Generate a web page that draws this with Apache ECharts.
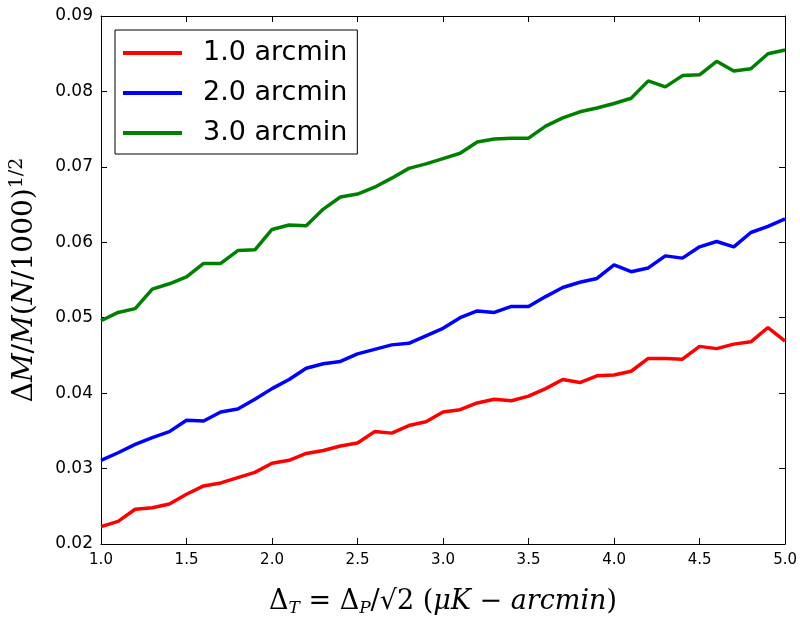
<!DOCTYPE html>
<html>
<head>
<meta charset="utf-8">
<script src="https://cdn.jsdelivr.net/npm/echarts@6/dist/echarts.min.js"></script>
<style>html,body{margin:0;padding:0;background:#fff;}#c{width:800px;height:622px;}</style>
</head>
<body>
<div id="c"></div>
<script>
const xValues = [1.0,1.1,1.2,1.3,1.4,1.5,1.6,1.7,1.8,1.9,2.0,2.1,2.2,2.3,2.4,2.5,2.6,2.7,2.8,2.9,3.0,3.1,3.2,3.3,3.4,3.5,3.6,3.7,3.8,3.9,4.0,4.1,4.2,4.3,4.4,4.5,4.6,4.7,4.8,4.9,5.0];
const seriesNames = ['1.0 arcmin','2.0 arcmin','3.0 arcmin'];
const red1 = [0.0223,0.0230,0.0246,0.0248,0.0253,0.0266,0.0277,0.0281,0.0288,0.0295,0.0307,0.0311,0.0320,0.0324,0.0330,0.0334,0.0349,0.0347,0.0357,0.0362,0.0375,0.0378,0.0387,0.0392,0.0390,0.0396,0.0406,0.0418,0.0414,0.0423,0.0424,0.0429,0.0446,0.0446,0.0445,0.0462,0.0459,0.0465,0.0468,0.0487,0.0469];
const blue2 = [0.0311,0.0321,0.0332,0.0341,0.0349,0.0364,0.0363,0.0375,0.0379,0.0392,0.0406,0.0418,0.0433,0.0439,0.0442,0.0452,0.0458,0.0464,0.0466,0.0476,0.0486,0.0500,0.0509,0.0507,0.0515,0.0515,0.0528,0.0540,0.0547,0.0552,0.0570,0.0561,0.0566,0.0582,0.0579,0.0594,0.0601,0.0594,0.0613,0.0621,0.0631];
const green3 = [0.0496,0.0507,0.0512,0.0538,0.0545,0.0554,0.0572,0.0572,0.0589,0.0590,0.0617,0.0623,0.0622,0.0644,0.0660,0.0664,0.0673,0.0685,0.0698,0.0704,0.0711,0.0718,0.0733,0.0737,0.0738,0.0738,0.0754,0.0765,0.0773,0.0778,0.0784,0.0791,0.0814,0.0806,0.0821,0.0822,0.0840,0.0827,0.0830,0.0850,0.0855];
const colors = ['#ff0000','#0000ff','#008000'];
const yTicks = {min:0.02, max:0.09, interval:0.01};
const xTicks = {min:1.0, max:5.0, interval:0.5};

const pair = arr => arr.map((v,i)=>[xValues[i], v]);
const serif = 'DejaVu Serif';
const axisCommon = {
  axisLine:{show:true, onZero:false, lineStyle:{color:'#000', width:1}},
  axisTick:{show:true, inside:true, length:6, lineStyle:{color:'#000', width:1}},
  splitLine:{show:false}
};
const XF = 27, YF = 28;
const chart = echarts.init(document.getElementById('c'), null, {renderer:'canvas'});
chart.setOption({
  animation:false,
  backgroundColor:'#fff',
  grid:{left:101, right:14, top:16, bottom:75, containLabel:false},
  legend:{
    left:115, top:30, orient:'vertical',
    data:seriesNames,
    icon:'rect', itemWidth:59, itemHeight:4, itemGap:10,
    borderColor:'#000', borderWidth:1, padding:[8,10,6,8],
    backgroundColor:'#fff',
    textStyle:{fontFamily:'DejaVu Sans', fontSize:27, color:'#000', lineHeight:30, padding:[0,0,0,16]}
  },
  xAxis:[
    Object.assign({type:'value', position:'bottom', min:xTicks.min, max:xTicks.max, interval:xTicks.interval,
      axisLabel:{margin:9, fontFamily:'DejaVu Sans', fontSize:15, color:'#000', formatter:v=>v.toFixed(1)},
      name:'{r|Δ}{sub|T}{r| = Δ}{sub|P}{r|/√2 (}{i|μK}{r| − }{i|arcmin}{r|)}',
      nameLocation:'middle', nameGap:43,
      nameTextStyle:{fontFamily:serif, fontSize:XF, color:'#000',
        rich:{r:{fontFamily:serif, fontSize:XF, color:'#000'},
              i:{fontFamily:serif, fontStyle:'italic', fontSize:XF, color:'#000'},
              sub:{fontFamily:serif, fontStyle:'italic', fontSize:17, color:'#000', padding:[13,0,0,0]}}}
    }, axisCommon),
    Object.assign({type:'value', position:'top', min:xTicks.min, max:xTicks.max, interval:xTicks.interval,
      axisLabel:{show:false}}, axisCommon)
  ],
  yAxis:[
    Object.assign({type:'value', position:'left', min:yTicks.min, max:yTicks.max, interval:yTicks.interval,
      axisLabel:{margin:8, fontFamily:'DejaVu Sans', fontSize:17, color:'#000', formatter:v=>v.toFixed(2)},
      name:'{r|Δ}{i|M}{r|/}{i|M}{r|(}{i|N}{r|/1000)}{sup|1/2}',
      nameLocation:'middle', nameGap:59, nameRotate:90,
      nameTextStyle:{fontFamily:serif, fontSize:YF, color:'#000',
        rich:{r:{fontFamily:serif, fontSize:YF, color:'#000'},
              i:{fontFamily:serif, fontStyle:'italic', fontSize:YF, color:'#000'},
              sup:{fontFamily:serif, fontSize:19, color:'#000', padding:[0,0,15,0]}}}
    }, axisCommon),
    Object.assign({type:'value', position:'right', min:yTicks.min, max:yTicks.max, interval:yTicks.interval,
      axisLabel:{show:false}}, axisCommon)
  ],
  series:[red1, blue2, green3].map((arr,k)=>({
    name:seriesNames[k], type:'line', data:pair(arr), showSymbol:false, symbol:'none',
    lineStyle:{color:colors[k], width:3.5}, itemStyle:{color:colors[k]}, z:2+k
  }))
});
</script>
</body>
</html>
